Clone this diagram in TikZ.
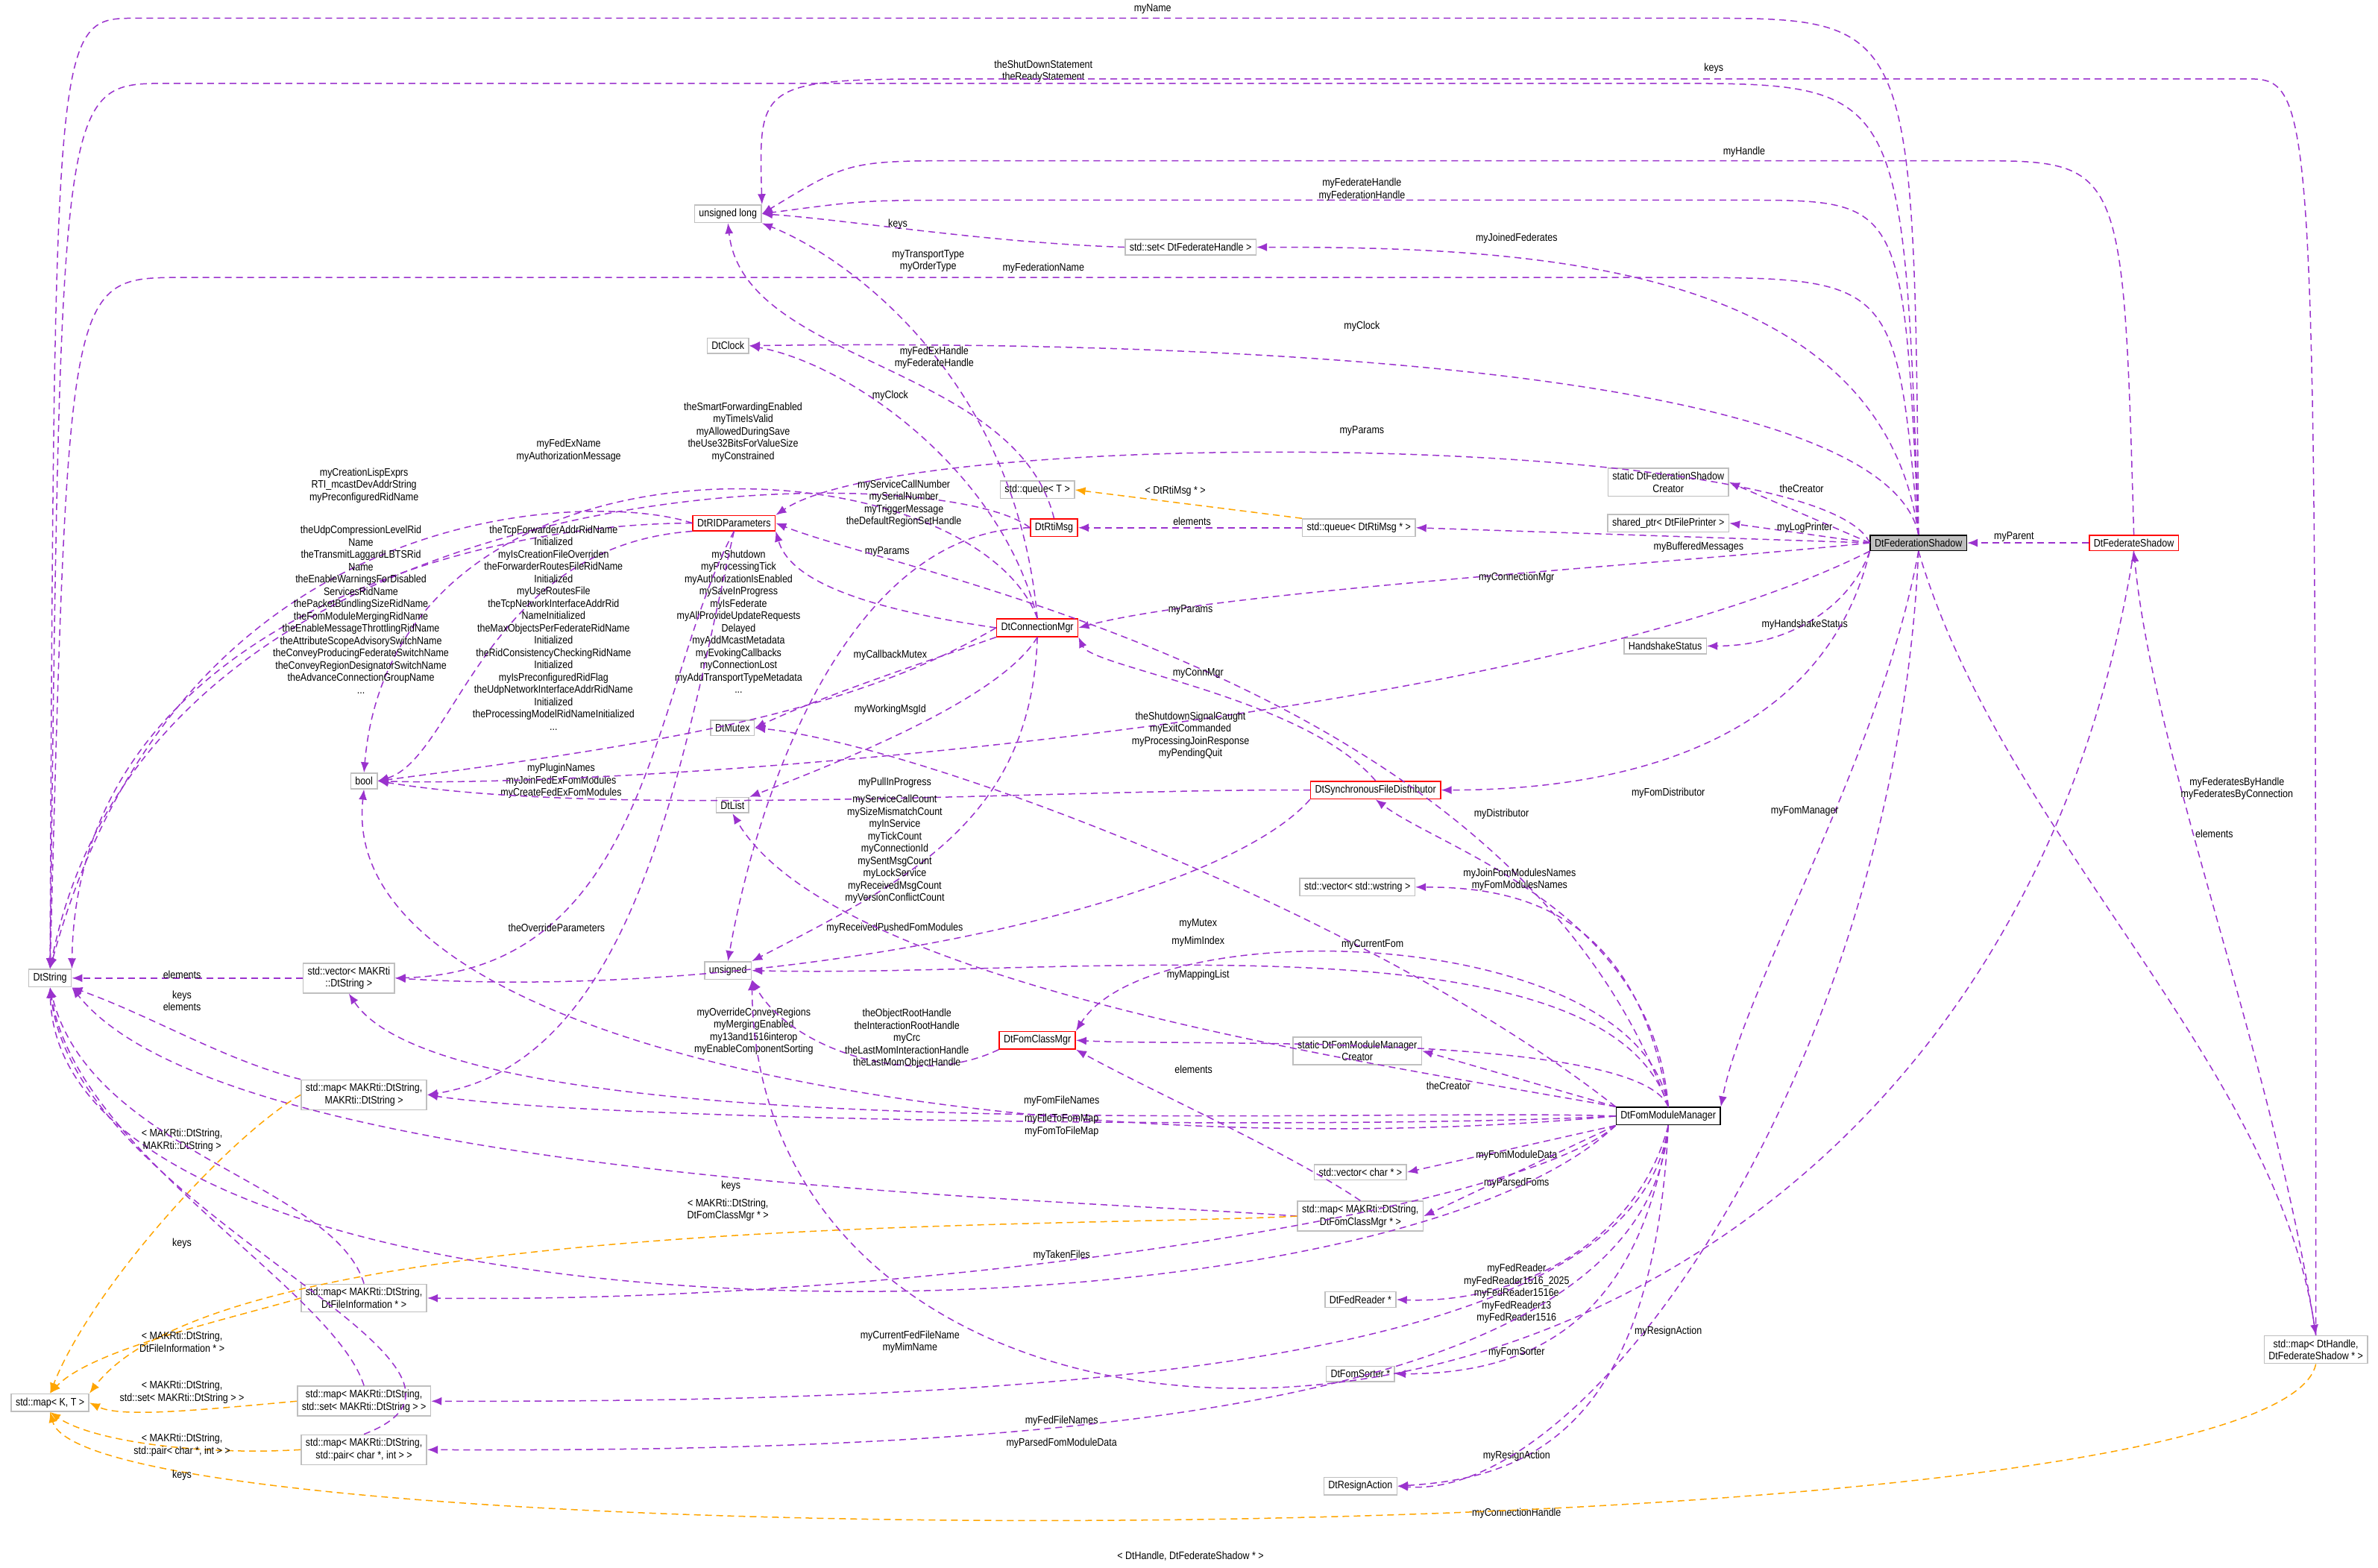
\documentclass[tikz,border=0pt]{standalone}
\usepackage{fontspec}
\setmainfont{Liberation Sans}[FakeStretch=0.86]
\usetikzlibrary{arrows.meta}
\definecolor{pur}{HTML}{9A32CD}
\definecolor{org}{HTML}{FFA500}
\definecolor{gb}{HTML}{BFBFBF}
\begin{document}
\begin{tikzpicture}[x=2.034pt,y=-2.034pt,
 every node/.style={font=\fontsize{14.5}{16.5}\selectfont},
 bx/.style={draw=gb,line width=1.6pt,inner xsep=6pt,inner ysep=5pt,align=center,fill=white},
 rb/.style={bx,draw=red},
 e/.style={draw=pur,line width=1.5pt,dash pattern=on 9pt off 6pt,-{Latex[length=14pt,width=11pt]}},
 o/.style={e,draw=org},
 l/.style={inner sep=0pt,align=center}]
\useasboundingbox (0,0) rectangle (1568,1034);
% nodes
\node[bx,fill=gb,draw=black] (FS) at (1265,358) {DtFederationShadow};
\node[rb] (FdS) at (1407,358) {DtFederateShadow};
\node[bx,draw=black] (FMM) at (1100,736) {DtFomModuleManager};
\node[bx] (UL) at (480,141) {unsigned long};
\node[bx] (SetFH) at (785,163) {std::set< DtFederateHandle >};
\node[bx] (Clk) at (480,228) {DtClock};
\node[bx] (SCr) at (1100,318) {static DtFederationShadow\\Creator};
\node[bx] (SP) at (1100,345) {shared\_ptr< DtFilePrinter >};
\node[bx] (HS) at (1098,426) {HandshakeStatus};
\node[bx] (QT) at (684,323) {std::queue< T >};
\node[bx] (QM) at (896,348) {std::queue< DtRtiMsg * >};
\node[rb] (RM) at (695,348) {DtRtiMsg};
\node[rb] (RID) at (484,345) {DtRIDParameters};
\node[rb] (CM) at (684,414) {DtConnectionMgr};
\node[bx] (Mtx) at (483,480) {DtMutex};
\node[bx] (Bool) at (240,515) {bool};
\node[bx] (Lst) at (483,531) {DtList};
\node[rb] (SFD) at (907,521) {DtSynchronousFileDistributor};
\node[bx] (VW) at (895,585) {std::vector< std::wstring >};
\node[bx] (Uns) at (480,640) {unsigned};
\node[bx] (Str) at (33,645) {DtString};
\node[bx] (VS) at (230,645) {std::vector< MAKRti\\::DtString >};
\node[bx] (MSS) at (240,722) {std::map< MAKRti::DtString,\\MAKRti::DtString >};
\node[rb] (FCM) at (684,686) {DtFomClassMgr};
\node[bx] (FCr) at (895,693) {static DtFomModuleManager\\Creator};
\node[bx] (VC) at (897,773) {std::vector< char * >};
\node[bx] (MFC) at (897,802) {std::map< MAKRti::DtString,\\DtFomClassMgr * >};
\node[bx] (FR) at (897,857) {DtFedReader *};
\node[bx] (FSo) at (897,906) {DtFomSorter *};
\node[bx] (RA) at (897,980) {DtResignAction};
\node[bx] (MFI) at (240,856) {std::map< MAKRti::DtString,\\DtFileInformation * >};
\node[bx] (MKT) at (33,925) {std::map< K, T >};
\node[bx] (MSet) at (240,924) {std::map< MAKRti::DtString,\\std::set< MAKRti::DtString > >};
\node[bx] (MPair) at (240,956) {std::map< MAKRti::DtString,\\std::pair< char *, int > >};
\node[bx] (MH) at (1527,890) {std::map< DtHandle,\\DtFederateShadow * >};
% edges
\draw[e] (FS.north) .. controls (1262,12) .. (1120,12) -- (90,12) .. controls (36,12) .. (Str.north);
\node[l] (t1) at (760,6) {myName};
\draw[e] (FS.north) .. controls (1255,55) .. (1100,55) -- (110,55) .. controls (40,55) .. (Str.north);
\node[l] (t2) at (688,47) {theShutDownStatement\\theReadyStatement};
\draw[e] (MH.north) .. controls (1527,52) .. (1480,52) -- (640,52) .. controls (500,52) .. (UL.north east);
\node[l] (t3) at (1130,45) {keys};
\draw[e] (FdS.north) .. controls (1400,106) .. (1300,106) -- (640,106) .. controls (560,106) .. (UL.east);
\node[l] (t4) at (1150,100) {myHandle};
\draw[e] (FS.north) .. controls (1255,132) .. (1150,132) -- (640,132) .. controls (570,132) .. (UL.east);
\node[l] (t5) at (898,125) {myFederateHandle\\myFederationHandle};
\draw[e] (SetFH.west) .. controls (650,160) and (560,145) .. (UL.east);
\node[l] (t6) at (592,148) {keys};
\draw[e] (FS.north) .. controls (1240,170) and (1000,163) .. (SetFH.east);
\node[l] (t7) at (1000,157) {myJoinedFederates};
\draw[e] (FS.north) .. controls (1250,183) .. (1100,183) -- (120,183) .. controls (45,183) .. (Str.north);
\node[l] (t8) at (688,177) {myFederationName};
\draw[e] (CM.north) .. controls (670,250) and (560,170) .. (UL.south east);
\node[l] (t9) at (612,172) {myTransportType\\myOrderType};
\draw[e] (FS.north) .. controls (1240,230) and (700,225) .. (Clk.east);
\node[l] (t10) at (898,215) {myClock};
\draw[e] (CM.north) .. controls (660,310) and (560,240) .. (Clk.east);
\node[l] (t11) at (587,261) {myClock};
\draw[e] (RM.north) .. controls (670,240) and (490,240) .. (UL.south);
\node[l] (t12) at (616,236) {myFedExHandle\\myFederateHandle};
\draw[e] (CM.north) .. controls (640,290) and (260,270) .. (Bool.north);
\node[l] (t13) at (490,285) {theSmartForwardingEnabled\\myTimeIsValid\\myAllowedDuringSave\\theUse32BitsForValueSize\\myConstrained};
\draw[e] (RM.west) .. controls (620,300) and (100,300) .. (Str.north);
\node[l] (t14) at (375,297) {myFedExName\\myAuthorizationMessage};
\draw[e] (FS.west) .. controls (1200,285) and (600,280) .. (RID.north east);
\node[l] (t15) at (898,284) {myParams};
\draw[e] (RID.west) .. controls (400,325) and (120,320) .. (Str.north);
\node[l] (t16) at (240,320) {myCreationLispExprs\\RTI\_mcastDevAddrString\\myPreconfiguredRidName};
\draw[e] (RID.west) .. controls (300,345) and (50,420) .. (Str.north east);
\node[l] (t17) at (238,402) {theUdpCompressionLevelRid\\Name\\theTransmitLaggardLBTSRid\\Name\\theEnableWarningsForDisabled\\ServicesRidName\\thePacketBundlingSizeRidName\\theFomModuleMergingRidName\\theEnableMessageThrottlingRidName\\theAttributeScopeAdvisorySwitchName\\theConveyProducingFederateSwitchName\\theConveyRegionDesignatorSwitchName\\theAdvanceConnectionGroupName\\...};
\draw[e] (RID.south west) .. controls (320,360) and (300,500) .. (Bool.east);
\node[l] (t18) at (365,414) {theTcpForwarderAddrRidName\\Initialized\\myIsCreationFileOverriden\\theForwarderRoutesFileRidName\\Initialized\\myUseRoutesFile\\theTcpNetworkInterfaceAddrRid\\NameInitialized\\theMaxObjectsPerFederateRidName\\Initialized\\theRidConsistencyCheckingRidName\\Initialized\\myIsPreconfiguredRidFlag\\theUdpNetworkInterfaceAddrRidName\\Initialized\\theProcessingModelRidNameInitialized\\...};
\draw[e] (CM.west) .. controls (560,470) and (440,490) .. (Bool.east);
\node[l] (t19) at (487,410) {myShutdown\\myProcessingTick\\myAuthorizationIsEnabled\\mySaveInProgress\\myIsFederate\\myAllProvideUpdateRequests\\Delayed\\myAddMcastMetadata\\myEvokingCallbacks\\myConnectionLost\\myAddTransportTypeMetadata\\...};
\draw[e] (RID.south) .. controls (430,450) and (430,640) .. (VS.east);
\node[l] (t20) at (370,515) {myPluginNames\\myJoinFedExFomModules\\myCreateFedExFomModules};
\draw[e] (RID.south) .. controls (450,500) and (420,700) .. (MSS.east);
\node[l] (t21) at (367,612) {theOverrideParameters};
\draw[e] (RM.west) .. controls (560,350) and (500,520) .. (Uns.north);
\node[l] (t22) at (596,332) {myServiceCallNumber\\mySerialNumber\\myTriggerMessage\\theDefaultRegionSetHandle};
\draw[e] (QM.west) -- (RM.east);
\node[l] (t23) at (786,344) {elements};
\draw[o] (QM.north west) -- (QT.east);
\node[l] (t24) at (775,324) {< DtRtiMsg * >};
\draw[e] (FS.west) -- (QM.east);
\node[l] (t25) at (1120,361) {myBufferedMessages};
\draw[e] (FS.west) -- (SCr.east);
\node[l] (t26) at (1188,322) {theCreator};
\draw[e] (FS.west) -- (SP.east);
\node[l] (t27) at (1190,348) {myLogPrinter};
\draw[e] (FS.south west) .. controls (1220,400) and (1180,426) .. (HS.east);
\node[l] (t28) at (1190,412) {myHandshakeStatus};
\draw[e] (FS.west) .. controls (1100,372) and (800,390) .. (CM.east);
\node[l] (t29) at (1000,381) {myConnectionMgr};
\draw[e] (CM.west) .. controls (560,400) and (520,380) .. (RID.south east);
\node[l] (t30) at (585,364) {myParams};
\draw[e] (FMM.north) .. controls (1000,450) and (600,380) .. (RID.east);
\node[l] (t31) at (785,402) {myParams};
\draw[e] (CM.south west) .. controls (600,440) and (540,460) .. (Mtx.east);
\node[l] (t32) at (587,432) {myCallbackMutex};
\draw[e] (CM.south) .. controls (660,460) and (560,500) .. (Lst.north east);
\node[l] (t33) at (587,468) {myWorkingMsgId};
\draw[e] (FS.south west) .. controls (1000,480) and (400,520) .. (Bool.east);
\node[l] (t34) at (785,485) {theShutdownSignalCaught\\myExitCommanded\\myProcessingJoinResponse\\myPendingQuit};
\draw[e] (SFD.north) .. controls (860,460) and (720,440) .. (CM.south east);
\node[l] (t35) at (790,444) {myConnMgr};
\draw[e] (SFD.west) .. controls (700,520) and (400,540) .. (Bool.east);
\node[l] (t36) at (590,516) {myPullInProgress};
\draw[e] (CM.south) .. controls (680,540) and (600,580) .. (Uns.north east);
\node[l] (t37) at (590,560) {myServiceCallCount\\mySizeMismatchCount\\myInService\\myTickCount\\myConnectionId\\mySentMsgCount\\myLockService\\myReceivedMsgCount\\myVersionConflictCount};
\draw[e] (FS.south west) .. controls (1200,500) and (1050,521) .. (SFD.east);
\node[l] (t38) at (1100,523) {myFomDistributor};
\draw[e] (FMM.north) .. controls (1090,600) and (950,560) .. (SFD.south);
\node[l] (t39) at (990,537) {myDistributor};
\draw[e] (FMM.north west) .. controls (900,600) and (600,490) .. (Mtx.east);
\node[l] (t40) at (790,609) {myMutex};
\draw[e] (FMM.north) .. controls (1080,600) and (1000,585) .. (VW.east);
\node[l] (t41) at (1002,580) {myJoinFomModulesNames\\myFomModulesNames};
\draw[e] (SFD.south west) .. controls (800,600) and (500,660) .. (VS.east);
\node[l] (t42) at (590,612) {myReceivedPushedFomModules};
\draw[e] (FMM.north) .. controls (1060,600) and (700,645) .. (Uns.east);
\node[l] (t43) at (790,621) {myMimIndex};
\draw[e] (FMM.north west) .. controls (900,700) and (550,650) .. (Lst.south);
\draw[e] (FMM.north) .. controls (1080,680) and (780,690) .. (FCM.east);
\node[l] (t44) at (790,643) {myMappingList};
\draw[e] (FMM.north) .. controls (1080,610) and (760,600) .. (FCM.north east);
\node[l] (t45) at (905,623) {myCurrentFom};
\draw[e] (FMM.west) .. controls (700,770) and (220,700) .. (Bool.south);
\node[l] (t46) at (497,680) {myOverrideConveyRegions\\myMergingEnabled\\my13and1516interop\\myEnableComponentSorting};
\draw[e] (FCM.south west) .. controls (600,720) and (520,690) .. (Uns.south east);
\node[l] (t47) at (598,685) {theObjectRootHandle\\theInteractionRootHandle\\myCrc\\theLastMomInteractionHandle\\theLastMomObjectHandle};
\draw[e] (MFC.north) .. controls (850,760) and (760,720) .. (FCM.south east);
\node[l] (t48) at (787,705) {elements};
\draw[e] (FMM.west) .. controls (900,730) and (300,760) .. (VS.south);
\node[l] (t49) at (700,726) {myFomFileNames};
\draw[e] (FMM.west) .. controls (900,745) and (400,740) .. (MSS.east);
\node[l] (t50) at (700,742) {myFileToFomMap\\myFomToFileMap};
\draw[e] (FMM.north west) -- (FCr.east);
\node[l] (t51) at (955,716) {theCreator};
\draw[e] (FMM.south west) -- (VC.east);
\node[l] (t52) at (1000,762) {myFomModuleData};
\draw[e] (FMM.south west) -- (MFC.east);
\node[l] (t53) at (1000,780) {myParsedFoms};
\draw[e] (MFC.west) .. controls (700,790) and (150,780) .. (Str.south east);
\node[l] (t54) at (482,782) {keys};
\draw[o] (MFC.west) .. controls (700,810) and (150,800) .. (MKT.north east);
\node[l] (t55) at (480,798) {< MAKRti::DtString,\\DtFomClassMgr * >};
\draw[e] (FMM.south west) .. controls (1000,800) and (600,860) .. (MFI.east);
\node[l] (t56) at (700,828) {myTakenFiles};
\draw[e] (FMM.south) .. controls (1080,820) and (1000,860) .. (FR.east);
\node[l] (t57) at (1000,853) {myFedReader\\myFedReader1516\_2025\\myFedReader1516e\\myFedReader13\\myFedReader1516};
\draw[e] (FMM.south west) .. controls (900,900) and (40,900) .. (Str.south);
\node[l] (t58) at (600,885) {myCurrentFedFileName\\myMimName};
\draw[e] (FMM.south) .. controls (1080,880) and (1000,906) .. (FSo.east);
\node[l] (t59) at (1000,892) {myFomSorter};
\draw[e] (FMM.south) .. controls (1080,900) and (700,925) .. (MSet.east);
\node[l] (t60) at (700,937) {myFedFileNames};
\draw[e] (FMM.south) .. controls (1085,930) and (700,958) .. (MPair.east);
\node[l] (t61) at (700,952) {myParsedFomModuleData};
\draw[e] (FMM.south) .. controls (1090,950) and (1000,975) .. (RA.east);
\node[l] (t62) at (1000,960) {myResignAction};
\draw[e] (FS.south) .. controls (1250,700) and (1050,990) .. (RA.east);
\node[l] (t63) at (1100,878) {myResignAction};
\draw[e] (FS.south) .. controls (1240,500) and (1150,650) .. (FMM.north east);
\node[l] (t64) at (1190,535) {myFomManager};
\draw[e] (FdS.west) -- (FS.east);
\node[l] (t65) at (1328,354) {myParent};
\draw[e] (MH.north) .. controls (1500,700) and (1420,500) .. (FdS.south);
\node[l] (t66) at (1460,550) {elements};
\draw[e] (FS.south) .. controls (1320,550) and (1500,700) .. (MH.north);
\node[l] (t67) at (1475,520) {myFederatesByHandle\\myFederatesByConnection};
\draw[e] (FdS.south) .. controls (1300,1030) and (500,1050) .. (Uns.south east);
\node[l] (t68) at (1000,998) {myConnectionHandle};
\draw[o] (MH.south) .. controls (1500,1030) and (60,1030) .. (MKT.south);
\node[l] (t69) at (785,1026) {< DtHandle, DtFederateShadow * >};
\draw[e] (VS.west) -- (Str.east);
\node[l] (t70) at (120,643) {elements};
\draw[e] (MSS.north west) .. controls (150,700) and (100,670) .. (Str.south east);
\node[l] (t71) at (120,660) {keys\\elements};
\draw[o] (MSS.west) .. controls (150,750) and (60,850) .. (MKT.north);
\node[l] (t72) at (120,752) {< MAKRti::DtString,\\MAKRti::DtString >};
\draw[e] (MFI.north) .. controls (220,780) and (60,760) .. (Str.south);
\node[l] (t73) at (120,820) {keys};
\draw[o] (MFI.west) .. controls (150,870) and (60,890) .. (MKT.north);
\node[l] (t74) at (120,885) {< MAKRti::DtString,\\DtFileInformation * >};
\draw[o] (MSet.west) .. controls (130,930) and (80,935) .. (MKT.east);
\node[l] (t75) at (120,918) {< MAKRti::DtString,\\std::set< MAKRti::DtString > >};
\draw[o] (MPair.west) .. controls (130,960) and (60,950) .. (MKT.south);
\node[l] (t76) at (120,953) {< MAKRti::DtString,\\std::pair< char *, int > >};
\draw[e] (MSet.north) .. controls (220,850) and (50,760) .. (Str.south);
\draw[e] (MPair.north) .. controls (360,900) and (50,800) .. (Str.south);
\node[l] (t77) at (120,973) {keys};
\end{tikzpicture}
\end{document}
